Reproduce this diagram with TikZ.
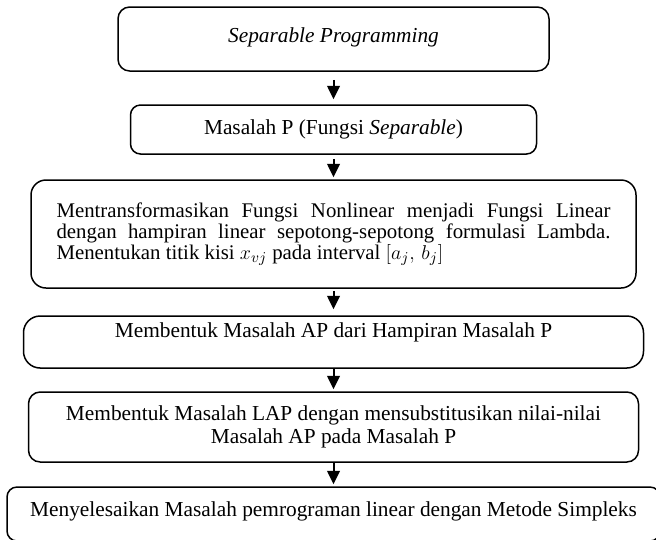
\documentclass[tikz,border=0pt]{standalone}
\usepackage{fontspec}
\setmainfont{Liberation Serif}
\usetikzlibrary{arrows.meta}

\begin{document}
\begin{tikzpicture}[x=0.6pt, y=-0.6pt, >={Triangle[width=7.5pt,length=8pt]},
  box/.style={draw, line width=0.9pt, rounded corners=6pt, align=center,
    inner sep=0pt, font=\fontsize{12.8}{15}\selectfont},
  flow/.style={->, line width=1.2pt, shorten >=1.2pt}]
  \useasboundingbox (0,0) rectangle (656,539);
  \clip (0,0) rectangle (656,539);
  \node[box, rounded corners=7pt, minimum width=258.6pt, minimum height=38.4pt,
    text depth=5pt]
    (sp) at (333.5,39) {\textit{Separable Programming}};
  \node[box, minimum width=243.6pt, minimum height=29.4pt]
    (masp) at (333.5,129.5) {Masalah P (Fungsi \textit{Separable})};
  \node[box, rounded corners=9pt, minimum width=363pt, minimum height=64.8pt,
    text width=332.4pt, align=justify, font=\fontsize{12.5}{11}\selectfont]
    (trans) at (333.5,234) {Mentransformasikan Fungsi Nonlinear menjadi Fungsi Linear
    dengan hampiran linear sepotong-sepotong formulasi Lambda.
    Menentukan titik kisi $x_{vj}$ pada interval $[a_j,\,b_j]$\par};
  \node[box, rounded corners=10pt, minimum width=372pt, minimum height=31.2pt,
    text depth=14pt]
    (ap) at (333.5,342) {Membentuk Masalah AP dari Hampiran Masalah P};
  \node[box, rounded corners=7pt, minimum width=366pt, minimum height=42pt,
    font=\fontsize{12.8}{13.4}\selectfont]
    (lap) at (333.5,427) {Membentuk Masalah LAP dengan mensubstitusikan nilai-nilai\\
    Masalah AP pada Masalah P};
  \node[box, minimum width=391.8pt, minimum height=32.4pt, text depth=6pt]
    (simp) at (333.5,514) {Menyelesaikan Masalah pemrograman linear dengan Metode Simpleks};
  % arrows
  \draw[flow, shorten <=4.8pt, shorten >=3pt] (sp) -- (masp);
  \draw[flow, shorten <=2.4pt] (masp) -- (trans);
  \draw[flow, shorten <=1.2pt, shorten >=3.6pt] (trans) -- (ap);
  \draw[flow] (ap) -- (lap);
  \draw[flow] (lap) -- (simp);
\end{tikzpicture}
\end{document}
